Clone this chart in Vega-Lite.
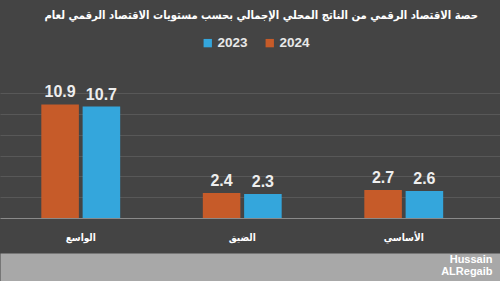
{
  "$schema": "https://vega.github.io/schema/vega-lite/v6.json",
  "width": 500,
  "height": 125,
  "autosize": {"type": "none"},
  "padding": {"top": 93, "left": 0, "right": 0, "bottom": 63},
  "background": "#444444",
  "config": {"view": {"stroke": null}, "font": "DejaVu Sans Condensed"},
  "title": {
    "text": "حصة الاقتصاد الرقمي من الناتج المحلي الإجمالي بحسب مستويات الاقتصاد الرقمي لعام",
    "anchor": "end",
    "frame": "group",
    "dx": -22,
    "offset": 15,
    "color": "#ffffff",
    "font": "DejaVu Sans Condensed",
    "fontSize": 11.2,
    "fontWeight": "bold"
  },
  "data": {
    "values": [
      {"level": "الواسع", "year": "2024", "value": 10.9},
      {"level": "الواسع", "year": "2023", "value": 10.7},
      {"level": "الضيق", "year": "2024", "value": 2.4},
      {"level": "الضيق", "year": "2023", "value": 2.3},
      {"level": "الأساسي", "year": "2024", "value": 2.7},
      {"level": "الأساسي", "year": "2023", "value": 2.6}
    ]
  },
  "encoding": {
    "x": {
      "field": "level",
      "type": "nominal",
      "sort": ["الواسع", "الضيق", "الأساسي"],
      "scale": {"paddingInner": 0, "paddingOuter": 0.048, "align": 0},
      "axis": {
        "title": ["Hussain", "ALRegaib"],
        "titleColor": "#ffffff",
        "titleFont": "Liberation Sans",
        "titleFontSize": 11,
        "titleFontWeight": "bold",
        "titleLineHeight": 12,
        "titleAlign": "right",
        "titleAnchor": "end",
        "titleBaseline": "middle",
        "titleX": 492,
        "titleY": -8,
        "labelAngle": 0,
        "labelColor": "#ffffff",
        "labelFont": "DejaVu Sans Condensed",
        "labelFontSize": 10,
        "labelFontWeight": "bold",
        "labelPadding": -35,
        "ticks": false,
        "domain": true,
        "domainColor": "#a8a8a8",
        "domainWidth": 28,
        "domainCap": "butt",
        "offset": 49,
        "grid": false
      }
    },
    "xOffset": {
      "field": "year",
      "type": "nominal",
      "sort": ["2024", "2023"],
      "scale": {"paddingInner": 0.0909, "paddingOuter": 1.4925}
    },
    "y": {
      "field": "value",
      "type": "quantitative",
      "scale": {"domain": [0, 12]},
      "axis": {
        "title": null,
        "labels": false,
        "ticks": false,
        "domain": false,
        "grid": true,
        "values": [0, 2, 4, 6, 8, 10, 12],
        "gridColor": {"condition": {"test": "datum.value === 0", "value": "#8a8a8a"}, "value": "#585858"},
        "gridWidth": 1
      }
    }
  },
  "layer": [
    {
      "mark": {"type": "bar"},
      "encoding": {
        "color": {
          "field": "year",
          "type": "nominal",
          "scale": {"domain": ["2023", "2024"], "range": ["#34a6dc", "#c65b29"]},
          "legend": {
            "title": null,
            "orient": "none",
            "direction": "horizontal",
            "legendX": 201,
            "legendY": -57,
            "symbolType": "square",
            "symbolSize": 70,
            "symbolStrokeWidth": 0,
            "labelColor": "#e8e8e8",
            "labelFont": "Liberation Sans",
            "labelFontSize": 13.5,
            "labelFontWeight": "bold",
            "columnPadding": 15,
            "labelOffset": 3
          }
        }
      }
    },
    {
      "mark": {"type": "text", "baseline": "bottom", "dy": -4, "font": "Liberation Sans", "fontSize": 16, "fontWeight": "bold", "color": "#eeeeee"},
      "encoding": {
        "text": {"field": "value", "type": "quantitative", "format": ".1f"}
      }
    }
  ]
}
